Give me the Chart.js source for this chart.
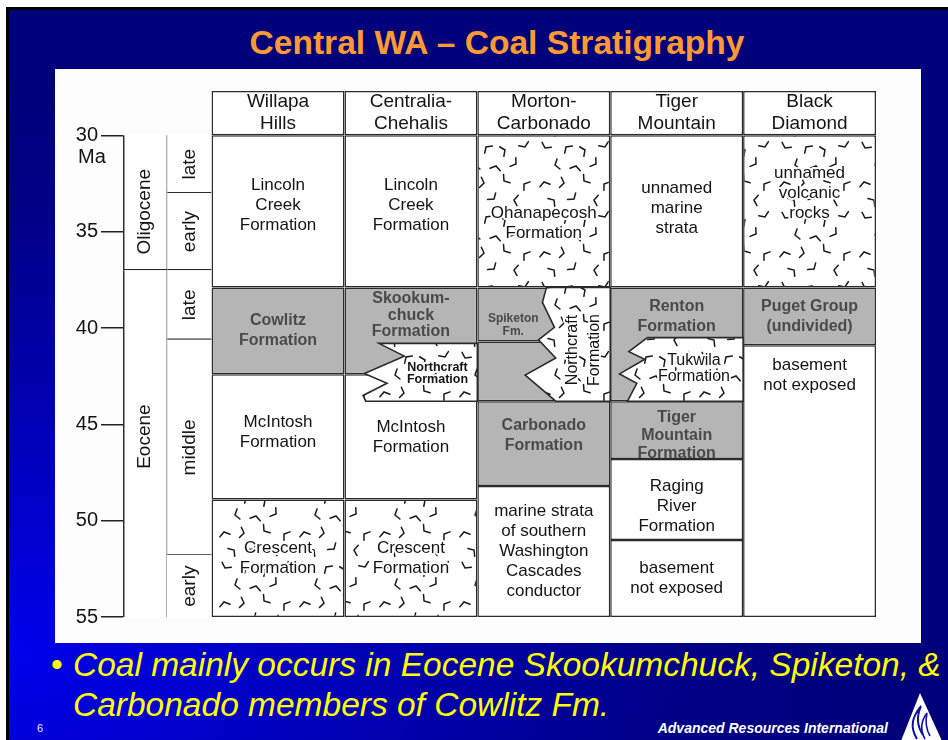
<!DOCTYPE html>
<html>
<head>
<meta charset="utf-8">
<title>Central WA - Coal Stratigraphy</title>
<script src="https://cdn.jsdelivr.net/npm/chart.js@4.4.0/dist/chart.umd.min.js"></script>
<style>
  html, body { margin: 0; padding: 0; background: #fff; }
  body { width: 948px; height: 740px; position: relative; overflow: hidden; font-family: "Liberation Sans", Arial, sans-serif; }
  #slide { position: absolute; left: 6px; top: 7px; right: 0; bottom: 0; border-top: 3px solid #000; border-left: 3px solid #000;
    background: radial-gradient(ellipse 95% 80% at 0% 88%, #0000ec 0%, #0000b4 40%, #000086 75%, #00007a 100%); }
  #title { position: absolute; left: 197px; top: 23px; width: 600px; text-align: center; color: #ff9933; font-weight: bold; font-size: 33.6px; line-height: 40px; }
  #panel { position: absolute; left: 55px; top: 69px; width: 866px; height: 574px; background: #fdfdfd; }
  #bullet { position: absolute; left: 51px; top: 645px; color: #ffff00; font-size: 33.5px; line-height: 40px; }
  #note { position: absolute; left: 73px; top: 645px; color: #ffff00; font-style: italic; font-size: 33.5px; line-height: 40px; white-space: nowrap; }
  #page { position: absolute; left: 37px; top: 721px; color: #e8e8ff; font-size: 11px; line-height: 14px; }
  #brand { position: absolute; right: 60px; top: 719px; color: #fff; font-weight: bold; font-style: italic; font-size: 14px; line-height: 18px; }
  #logo { position: absolute; left: 0; top: 0; }
</style>
</head>
<body>
<div id="slide"></div>
<div id="title">Central WA – Coal Stratigraphy</div>
<div id="panel"><canvas id="strat" width="866" height="574"></canvas></div>
<div id="bullet">•</div>
<div id="note">Coal mainly occurs in Eocene Skookumchuck, Spiketon, &amp;<br>Carbonado members of Cowlitz Fm.</div>
<div id="page">6</div>
<div id="brand">Advanced Resources International</div>
<svg id="logo" width="948" height="740">
  <polygon points="901,741 920,693 942,741" fill="#fff"/>
  <path d="M917,739 C909,726 913,716 921,706 C916,717 917,726 923,735" fill="none" stroke="#1010a0" stroke-width="2"/>
  <path d="M925,739 C920,730 921,721 927,713 C925,722 926,729 930,736" fill="none" stroke="#1010a0" stroke-width="1.6"/>
</svg>
<script>
// columns of the correlation chart
const columns = ["Willapa Hills", "Centralia-Chehalis", "Morton-Carbonado", "Tiger Mountain", "Black Diamond"];
const headerLines = [["Willapa", "Hills"], ["Centralia-", "Chehalis"], ["Morton-", "Carbonado"], ["Tiger", "Mountain"], ["Black", "Diamond"]];
const headerRange = [27.7, 30];

// Ma axis
const tickValues = [30, 35, 40, 45, 50, 55];

// time scale columns
const epochNames = ["Oligocene", "Eocene"];
const epochRanges = [[30, 37], [37, 55]];
const ageNames = ["late", "early", "late", "middle", "early"];
const ageRanges = [[30, 33], [33, 37], [37, 40.6], [40.6, 51.8], [51.8, 55]];

// rock units (column index, name, age range in Ma, lithology)
const unitColumns = [0, 0, 0, 0, 1, 1, 1, 1, 2, 2, 2, 2, 2, 3, 3, 3, 3, 3, 4, 4, 4];
const unitNames = [
  "Lincoln\nCreek\nFormation", "Cowlitz\nFormation", "McIntosh\nFormation", "Crescent\nFormation",
  "Lincoln\nCreek\nFormation", "Skookum-\nchuck\nFormation", "McIntosh\nFormation", "Crescent\nFormation",
  "Ohanapecosh\nFormation", "Spiketon\nFm.", "", "Carbonado\nFormation", "marine strata\nof southern\nWashington\nCascades\nconductor",
  "unnamed\nmarine\nstrata", "Renton\nFormation", "Tiger\nMountain\nFormation", "Raging\nRiver\nFormation", "basement\nnot exposed",
  "unnamed\nvolcanic\nrocks", "Puget Group\n(undivided)", "basement\nnot exposed"
];
const unitRanges = [
  [30, 37.9], [37.9, 42.4], [42.4, 48.9], [48.9, 55],
  [30, 37.9], [37.9, 42.4], [42.4, 48.9], [48.9, 55],
  [30, 37.9], [37.9, 40.7], [40.7, 43.8], [43.8, 48.2], [48.2, 55],
  [30, 37.9], [37.9, 43.8], [43.8, 46.8], [46.8, 51.0], [51.0, 55],
  [30, 37.9], [37.9, 40.9], [40.9, 55]
];
const unitKinds = [
  "plain", "coal", "plain", "volcanic",
  "plain", "coal", "plain", "volcanic",
  "volcanic", "coal", "coal", "coal", "plain",
  "plain", "coal", "coal", "plain", "plain",
  "volcanic", "coal", "plain"
];

// volcanic tongues that interfinger from the right
const tongueColumns = [1, 2, 3];
const tongueNames = ["Northcraft\nFormation", "Northcraft\nFormation", "Tukwila\nFormation"];
const tongueRanges = [[40.8, 43.8], [37.9, 43.8], [40.5, 43.8]];

// ---- styling ----
const gray = "#b5b5b5";
const ink = "#141414";
const grayInk = "#4a4a4a";
const lineColor = "#2b2b2b";
const family = "'Liberation Sans', Arial, sans-serif";
Chart.defaults.font.family = family;

// zig-zag outlines of the tongues, as fractions of their bar box
const tongueShapes = [
  { pts: [[0.26, 0], [1, 0], [1, 1], [0.16, 1], [0.14, 0.9], [0.32, 0.69], [0.15, 0.52], [0.45, 0.22]],
    fx: 0.70, fy: 0.53, font: "bold 12.5px", lh: 12, rotate: false },
  { pts: [[0.52, 0], [1, 0], [1, 1], [0.59, 1], [0.36, 0.77], [0.59, 0.62], [0.46, 0.46], [0.58, 0.35], [0.49, 0.13]],
    fx: 0.80, fy: 0.55, font: "16px", lh: 22, rotate: true },
  { pts: [[0.28, 0], [1, 0], [1, 1], [0.13, 1], [0.2, 0.72], [0.07, 0.57], [0.26, 0.34], [0.14, 0.22]],
    fx: 0.63, fy: 0.48, font: "16px", lh: 16, rotate: false }
];

// label tweaks keyed by column|first line
const labelStyles = {
  "Willapa Hills|Lincoln": { dy: -6 },
  "Centralia-Chehalis|Lincoln": { dy: -6 },
  "Willapa Hills|McIntosh": { dy: -5 },
  "Centralia-Chehalis|Skookum-": { lh: 16.5, top: 28 },
  "Morton-Carbonado|Ohanapecosh": { dy: 12 },
  "Morton-Carbonado|Spiketon": { fx: -0.23, dy: 11, font: "bold 12px", lh: 13 },
  "Morton-Carbonado|Carbonado": { dy: -8 },
  "Tiger Mountain|unnamed": { dy: -3 },
  "Tiger Mountain|Renton": { top: 29 },
  "Tiger Mountain|Tiger": { dy: 5, lh: 18 },
  "Tiger Mountain|Raging": { dy: 7 },
  "Black Diamond|unnamed": { dy: -18 },
  "Black Diamond|Puget": { dy: 4 },
  "Black Diamond|basement": { top: 30 }
};
const epochLabelShift = { Oligocene: 9, Eocene: -7 };

function volcanicPattern() {
  const c = document.createElement("canvas");
  c.width = 80; c.height = 70;
  const g = c.getContext("2d");
  g.fillStyle = "#fff";
  g.fillRect(0, 0, c.width, c.height);
  g.strokeStyle = "#1a1a1a";
  g.lineWidth = 1.5;
  g.lineCap = "round";
  const marks = [
    [10, 9, 0.2], [31, 8, 2.1], [50, 11, 4.0], [70, 8, 5.6],
    [20, 26, 1.0], [41, 27, 3.1], [61, 25, 5.0],
    [9, 43, 2.6], [29, 44, 4.6], [49, 42, 0.6], [69, 45, 1.9],
    [19, 61, 3.7], [39, 60, 5.3], [59, 61, 1.4]
  ];
  marks.forEach(([x, y, a]) => {
    g.save();
    g.translate(x, y);
    g.rotate(a);
    g.beginPath();
    g.moveTo(-4, -5);
    g.lineTo(0, 0);
    g.lineTo(6, -2);
    g.stroke();
    g.restore();
  });
  return g.createPattern(c, "repeat");
}
const volcanic = volcanicPattern();
const fills = { plain: "#fff", coal: gray, volcanic: volcanic };

// x categories: two narrow time columns, then three slots per rock column
const labels = ["epoch", "age"].concat(columns.flatMap(c => [c + " <", c, c + " >"]));

const timeItems = epochNames.map((n, i) => ({ x: "epoch", y: epochRanges[i], name: n, last: i === epochNames.length - 1 }))
  .concat(ageNames.map((n, i) => ({ x: "age", y: ageRanges[i], name: n, last: i === ageNames.length - 1 })));

const labelPlugin = {
  id: "stratLabels",
  afterDatasetsDraw(chart) {
    const ctx = chart.ctx;
    const box = el => {
      const p = el.getProps(["x", "y", "base", "width"], true);
      return { left: p.x - p.width / 2, right: p.x + p.width / 2, top: Math.min(p.y, p.base), bottom: Math.max(p.y, p.base), cx: p.x, w: p.width };
    };
    const write = (lines, cx, cy, font, lh, color, halo, rotate) => {
      ctx.save();
      ctx.translate(cx, cy);
      if (rotate) ctx.rotate(-Math.PI / 2);
      ctx.font = font + " " + family;
      ctx.textAlign = "center";
      ctx.textBaseline = "middle";
      ctx.fillStyle = color;
      ctx.strokeStyle = "#fff";
      ctx.lineWidth = 4;
      ctx.lineJoin = "round";
      const y0 = -(lines.length - 1) * lh / 2;
      lines.forEach((t, k) => {
        if (halo) ctx.strokeText(t, 0, y0 + k * lh);
        ctx.fillText(t, 0, y0 + k * lh);
      });
      ctx.restore();
    };

    // tongues with zig-zag edges
    chart.getDatasetMeta(3).data.forEach((el, i) => {
      const b = box(el);
      const s = tongueShapes[i];
      const h = b.bottom - b.top;
      ctx.save();
      ctx.beginPath();
      s.pts.forEach(([fx, fy], k) => {
        const px = b.left + fx * b.w, py = b.top + fy * h;
        if (k === 0) ctx.moveTo(px, py); else ctx.lineTo(px, py);
      });
      ctx.closePath();
      ctx.fillStyle = volcanic;
      ctx.fill();
      ctx.strokeStyle = lineColor;
      ctx.lineWidth = 1.6;
      ctx.stroke();
      ctx.restore();
      write(tongueNames[i].split("\n"), b.left + s.fx * b.w, b.top + s.fy * h, s.font, s.lh, ink, true, s.rotate);
    });

    // rock unit names
    chart.getDatasetMeta(0).data.forEach((el, i) => {
      const name = unitNames[i];
      if (!name) return;
      const lines = name.split("\n");
      const b = box(el);
      const kind = unitKinds[i];
      const st = labelStyles[columns[unitColumns[i]] + "|" + lines[0]] || {};
      const lh = st.lh || 20;
      const font = st.font || (kind === "coal" ? "bold 16px" : "17px");
      const cy = st.top !== undefined ? b.top + st.top : (b.top + b.bottom) / 2 + (st.dy || 0);
      write(lines, b.cx + (st.fx || 0) * b.w, cy, font, lh, kind === "coal" ? grayInk : ink, kind === "volcanic", false);
    });

    // column headers
    chart.getDatasetMeta(1).data.forEach((el, i) => {
      const b = box(el);
      write(headerLines[i], b.cx, (b.top + b.bottom) / 2, "19px", 22, ink, false, false);
    });

    // epochs and ages
    chart.getDatasetMeta(2).data.forEach((el, i) => {
      const b = box(el);
      const item = timeItems[i];
      write([item.name], b.cx, (b.top + b.bottom) / 2 + (epochLabelShift[item.name] || 0), "19px", 20, ink, false, true);
    });

    // unit of the axis
    const ys = chart.scales.y;
    ctx.save();
    ctx.font = "20px " + family;
    ctx.fillStyle = ink;
    ctx.textAlign = "left";
    ctx.textBaseline = "middle";
    ctx.fillText("Ma", 23, ys.getPixelForValue(tickValues[0]) + 22);
    ctx.restore();
  }
};

const barBase = { grouped: false, barPercentage: 1, borderSkipped: false, borderColor: lineColor };

new Chart(document.getElementById("strat"), {
  type: "bar",
  data: {
    labels: labels,
    datasets: [
      Object.assign({}, barBase, {
        label: "units",
        data: unitNames.map((n, i) => ({ x: columns[unitColumns[i]], y: unitRanges[i] })),
        backgroundColor: unitKinds.map(k => fills[k]),
        borderWidth: 1.5,
        categoryPercentage: 3
      }),
      Object.assign({}, barBase, {
        label: "headers",
        data: columns.map(c => ({ x: c, y: headerRange })),
        backgroundColor: "#fff",
        borderWidth: 1.5,
        categoryPercentage: 3
      }),
      Object.assign({}, barBase, {
        label: "time scale",
        data: timeItems.map(t => ({ x: t.x, y: t.y })),
        backgroundColor: "#fff",
        borderWidth: ctx => {
          const t = timeItems[ctx.dataIndex];
          if (!t) return 1.5;
          return { top: 0, bottom: t.last ? 0 : 1.5, left: t.x === "epoch" ? 1.8 : 0, right: t.x === "epoch" ? 1 : 0 };
        },
        categoryPercentage: 1
      }),
      Object.assign({}, barBase, {
        label: "tongues",
        data: tongueNames.map((n, i) => ({ x: columns[tongueColumns[i]], y: tongueRanges[i] })),
        backgroundColor: "rgba(0,0,0,0)",
        borderWidth: 0,
        categoryPercentage: 3
      })
    ]
  },
  options: {
    responsive: false,
    animation: false,
    devicePixelRatio: 1,
    layout: { padding: { left: 0, top: 22, right: 45, bottom: 26 } },
    plugins: { legend: { display: false }, tooltip: { enabled: false } },
    scales: {
      x: { display: false, stacked: false },
      y: {
        reverse: true,
        min: headerRange[0],
        max: 55,
        stacked: false,
        afterBuildTicks: scale => { scale.ticks = tickValues.map(v => ({ value: v })); },
        afterFit: scale => { scale.width = 68; },
        ticks: { color: ink, font: { size: 20 }, padding: 3 },
        grid: { drawOnChartArea: false, drawTicks: true, tickLength: 22, color: "#222", lineWidth: 1.5 },
        border: { display: false }
      }
    }
  },
  plugins: [labelPlugin]
});
</script>
</body>
</html>
